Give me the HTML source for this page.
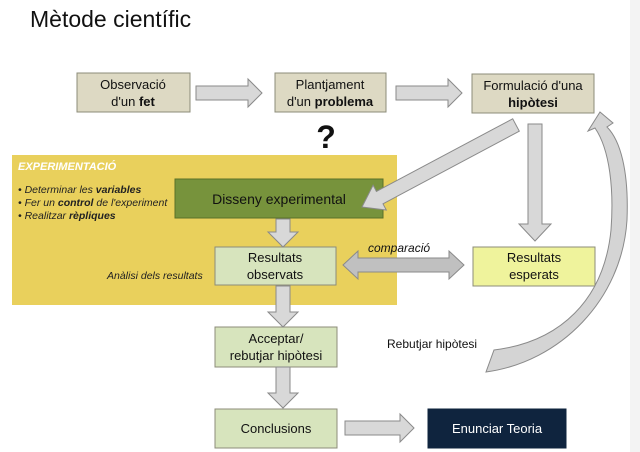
<!DOCTYPE html>
<html><head><meta charset="utf-8"><style>
body{margin:0;width:640px;height:452px;overflow:hidden;background:#fff;font-family:"Liberation Sans",sans-serif}
</style></head><body>
<svg width="640" height="452" xmlns="http://www.w3.org/2000/svg" style="position:absolute;left:0;top:0">
<rect x="630" y="0" width="10" height="452" fill="#f3f3f3"/>
<text x="30" y="27" font-size="23" fill="#111">Mètode científic</text>
<rect x="12" y="155" width="385" height="150" fill="#e9d05c"/>
<g font-family="Liberation Sans, sans-serif" font-style="italic" font-size="10.5">
<text x="18" y="170" fill="#fff" font-weight="bold" font-size="11">EXPERIMENTACIÓ</text>
<text x="18" y="193" fill="#222">• Determinar les <tspan font-weight="bold">variables</tspan></text>
<text x="18" y="206" fill="#222">• Fer un <tspan font-weight="bold">control</tspan> de l'experiment</text>
<text x="18" y="219" fill="#222">• Realitzar <tspan font-weight="bold">rèpliques</tspan></text>
<text x="107" y="279" fill="#222">Anàlisi dels resultats</text>
<text x="368" y="252" fill="#111" font-size="12">comparació</text>
</g>
<g stroke="#8c8c7a" stroke-width="1">
<rect x="77" y="73" width="113" height="39" fill="#ddd9c3"/>
<rect x="275" y="73" width="111" height="39" fill="#ddd9c3"/>
<rect x="472" y="74" width="122" height="39" fill="#ddd9c3"/>
<rect x="175" y="179" width="208" height="39" fill="#77933c" stroke="#5a7028"/>
<rect x="215" y="247" width="121" height="38" fill="#d7e4bd"/>
<rect x="473" y="247" width="122" height="39" fill="#eff39c"/>
<rect x="215" y="327" width="122" height="40" fill="#d7e4bd"/>
<rect x="215" y="409" width="122" height="39" fill="#d7e4bd"/>
<rect x="428" y="409" width="138" height="39" fill="#0f243e" stroke="#0f243e"/>
</g>
<g fill="#d8d8d8" stroke="#8a8a8a" stroke-width="1">
<polygon points="196,86 248,86 248,79 262,93 248,107 248,100 196,100"/>
<polygon points="396,86 448,86 448,79 462,93 448,107 448,100 396,100"/>
<polygon points="343,265 358,251 358,258 449,258 449,251 464,265 449,279 449,272 358,272 358,279" fill="#c0c0c0"/>
<polygon points="345,421 400,421 400,414 414,428 400,442 400,435 345,435"/>
<polygon points="528,124 542,124 542,224 551,224 535,241 519,224 528,224"/>
<polygon points="276,219 290,219 290,232 298,232 283,247 268,232 276,232"/>
<polygon points="276,286 290,286 290,312 298,312 283,327 268,312 276,312"/>
<polygon points="276,367 290,367 290,393 298,393 283,408 268,393 276,393"/>
<polygon points="519.3,131.2 383,203.8 386.3,210 362,207 373.1,185.2 376.4,191.4 512.7,118.8"/>
<path d="M486,372 C560,362 622,300 627,220 C629,170 620,140 607,127 L613,123 L600,112 L588,131 L595,128 C610,150 614,190 611,230 C604,300 560,342 494,350 Z" fill="#d4d4d4"/>
</g>
<g font-size="13" text-anchor="middle" fill="#111">
<text x="133" y="89">Observació</text><text x="133" y="106">d'un <tspan font-weight="bold">fet</tspan></text>
<text x="330" y="89">Plantjament</text><text x="330" y="106">d'un <tspan font-weight="bold">problema</tspan></text>
<text x="533" y="90">Formulació d'una</text><text x="533" y="107" font-weight="bold">hipòtesi</text>
<text x="279" y="204" font-size="14">Disseny experimental</text>
<text x="275" y="262">Resultats</text><text x="275" y="279">observats</text>
<text x="534" y="262">Resultats</text><text x="534" y="279">esperats</text>
<text x="276" y="343">Acceptar/</text><text x="276" y="360">rebutjar hipòtesi</text>
<text x="276" y="433">Conclusions</text>
<text x="497" y="433" fill="#fff">Enunciar Teoria</text>
<text x="326" y="148" font-size="32" font-weight="bold">?</text>
</g>
<text x="387" y="348" font-size="12" fill="#111">Rebutjar hipòtesi</text>
</svg>
</body></html>
